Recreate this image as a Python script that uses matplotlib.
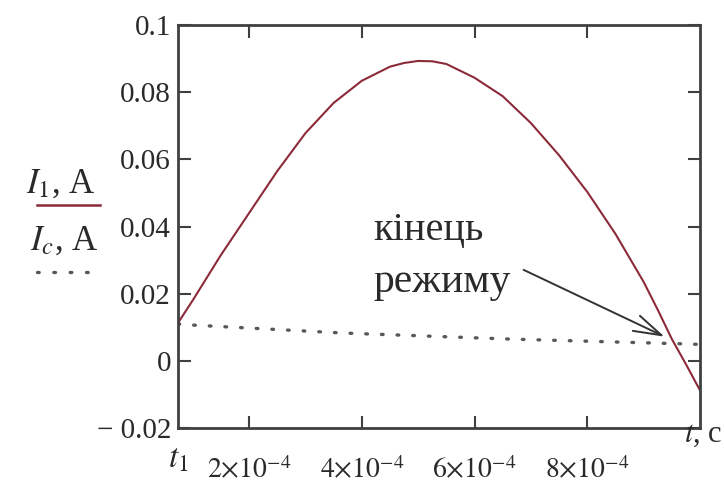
import matplotlib
matplotlib.use("Agg")
import matplotlib.pyplot as plt
from matplotlib.transforms import ScaledTranslation

plt.rcParams['font.family'] = ['Liberation Serif', 'DejaVu Serif']
plt.rcParams['mathtext.fontset'] = 'stix'

# time in units of 1e-4 s, t1 is the start of the interval
t1 = 0.74
t_end = 10.0
t_i1 = [0.74, 1.0, 1.5, 2.0, 2.5, 3.0, 3.5, 4.0, 4.5, 4.75, 5.0, 5.25, 5.5,
        6.0, 6.5, 7.0, 7.5, 8.0, 8.5, 9.0, 9.25, 9.5, 9.75, 10.0]
i1 = [0.0113, 0.018, 0.0315, 0.044, 0.0565, 0.0678, 0.0768, 0.0834, 0.0876,
      0.0887, 0.0893, 0.0892, 0.0884, 0.0843, 0.0788, 0.0708, 0.0612, 0.0503,
      0.0378, 0.0235, 0.0152, 0.0065, -0.0010, -0.0088]

t_ic = [0.74, 0.95, 3.65, 6.6, 9.62, 10.0]
ic = [0.0110, 0.0107, 0.0083, 0.0065, 0.0051, 0.0049]

x_ticks = [2, 4, 6, 8]
x_tick_labels = [r'$2{\times}10^{-4}$', r'$4{\times}10^{-4}$',
                 r'$6{\times}10^{-4}$', r'$8{\times}10^{-4}$']
y_ticks = [-0.02, 0, 0.02, 0.04, 0.06, 0.08, 0.1]
y_tick_labels = ['\u2212 0.02', '0', '0.02', '0.04', '0.06', '0.08', '0.1']

# arrow for "end of mode" note: tail and head in data units
note_xy = (4.2, 0.036)
arrow_tail = (6.87, 0.0271)
arrow_head = (9.37, 0.0072)

frame = '#404040'
red = '#8c2a3a'
txt = '#2a2a2a'
dots = (0, (0.5, 4.2))

fig = plt.figure(figsize=(7.24, 4.86), dpi=100)
ax = fig.add_axes([0.2459, 0.1193, 0.721, 0.8292])

ax.plot(t_i1, i1, color=red, lw=1.5)
ax.plot(t_ic, ic, color='#585858', lw=2.4, linestyle=dots,
        dash_capstyle='round')

ax.set_xlim(t1, t_end)
ax.set_ylim(-0.02, 0.1)

ax.set_xticks(x_ticks)
ax.set_xticklabels([])
ax.set_yticks(y_ticks)
ax.set_yticklabels(y_tick_labels, fontsize=21, color=txt)
# Mathcad puts labels a little below their tick
shift = ScaledTranslation(0, -4 / 100, fig.dpi_scale_trans)
for lab in ax.get_yticklabels():
    lab.set_transform(lab.get_transform() + shift)
ax.tick_params(direction='in', length=9, width=1.5, color=frame,
               top=True, right=True, pad=5)
for s in ax.spines.values():
    s.set_color(frame)
    s.set_linewidth(2)

# x tick labels sit well below the frame
xt = ax.get_xaxis_transform()
for xv, lab in zip(x_ticks, x_tick_labels):
    ax.text(xv, -0.072, lab, transform=xt, fontsize=20, ha='center',
            va='top', color=txt)
ax.text(t1, -0.04, r'$t_1$', transform=xt, fontsize=24, ha='center',
        va='top', color=txt)
fig.text(0.998, 0.105, r'$t$, c', fontsize=22, ha='right', va='center',
         color=txt)

# note with arrow
ax.text(note_xy[0], note_xy[1], 'кінець', fontsize=29, ha='left',
        va='baseline', color=txt)
ax.text(note_xy[0], note_xy[1] - 0.0155, 'режиму', fontsize=30, ha='left',
        va='baseline', color=txt)
ax.annotate('', xy=arrow_head, xytext=arrow_tail,
            arrowprops=dict(arrowstyle='->, head_length=1.0, head_width=0.3',
                            color='#333333', lw=1.4, mutation_scale=20,
                            shrinkA=0, shrinkB=0))

# y axis "legend" in Mathcad style
fig.text(0.133, 1 - 193 / 486, r'$I_1$, A', fontsize=25, ha='right',
         va='baseline', color=txt)
fig.add_artist(plt.Line2D([37 / 724, 100 / 724], [1 - 205 / 486, 1 - 205 / 486],
                          color=red, lw=1.8))
fig.text(0.136, 1 - 250 / 486, r'$I_c$, A', fontsize=25, ha='right',
         va='baseline', color=txt)
fig.add_artist(plt.Line2D([37 / 724, 92 / 724], [1 - 272 / 486, 1 - 272 / 486],
                          color='#585858', lw=2.4, linestyle=(0, (0.5, 4.4)),
                          dash_capstyle='round'))

fig.savefig('out.png', dpi=100)
